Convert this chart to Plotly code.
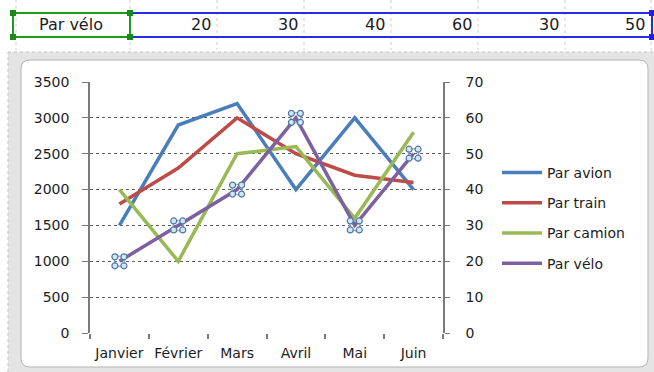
import plotly.graph_objects as go

# ---- data -------------------------------------------------------------
mois = ["Janvier", "Février", "Mars", "Avril", "Mai", "Juin"]
par_avion = [1500, 2900, 3200, 2000, 3000, 2000]
par_train = [1800, 2300, 3000, 2500, 2200, 2100]
par_camion = [2000, 1000, 2500, 2600, 1600, 2800]
par_velo = [20, 30, 40, 60, 30, 50]          # secondary axis

y1_ticks = list(range(0, 3501, 500))
y2_ticks = list(range(0, 71, 10))

# ---- geometry of the figure (pixels) ----------------------------------
W, H = 654, 372
L, R, T, B = 90, 443, 82, 333               # plot area


def px(x):
    return (x - L) / (R - L)


def py(y):
    return (B - y) / (B - T)


FONT = "DejaVu Sans"
TXT = "#1c1c24"
COLORS = {"Par avion": "#4a7ebb", "Par train": "#be4b48",
          "Par camion": "#98b954", "Par vélo": "#7d60a0"}

xs = list(range(len(mois)))
fig = go.Figure()

for name, vals in [("Par avion", par_avion), ("Par train", par_train),
                   ("Par camion", par_camion)]:
    fig.add_trace(go.Scatter(x=xs, y=vals, name=name, mode="lines",
                             legendgroup=name,
                             line=dict(color=COLORS[name], width=3.5)))

fig.add_trace(go.Scatter(x=xs, y=par_velo, name="Par vélo", mode="lines",
                         legendgroup="Par vélo", yaxis="y2",
                         line=dict(color=COLORS["Par vélo"], width=3.5)))

# selection handles around each "Par vélo" point
dx = 4.5 / (R - L) * len(mois)               # ~4.5 px in category units
dy = 4.5 / (B - T) * 70                      # ~4.5 px in secondary units
hx, hy = [], []
for i, v in enumerate(par_velo):
    for sx, sy in [(-1, -1), (1, -1), (1, 1), (-1, 1)]:
        hx.append(i + sx * dx)
        hy.append(v + sy * dy)
fig.add_trace(go.Scatter(x=xs, y=par_velo, mode="markers", yaxis="y2",
                         showlegend=False, hoverinfo="skip",
                         marker=dict(symbol="square-open", size=10,
                                     color="#8fb3d6", line=dict(width=1.5))))
fig.add_trace(go.Scatter(x=hx, y=hy, mode="markers", yaxis="y2",
                         showlegend=False, hoverinfo="skip",
                         marker=dict(symbol="circle", size=6, color="#d3e4f3",
                                     line=dict(color="#4f77a3", width=1.2))))

# ---- decorations: worksheet row and chart frame -----------------------
shapes = []
# chart-area frame (selected border) and white rounded interior
shapes.append(dict(type="rect", xref="paper", yref="paper", layer="below",
                   x0=px(8), x1=px(660), y0=py(52), y1=py(385),
                   fillcolor="#e4e4e4", line=dict(color="#c2c2c2", width=1, dash="dot")))
x0, x1, y0, y1, r = 21, 648, 60, 367, 9
path = (f"M{px(x0 + r)},{py(y0)} L{px(x1 - r)},{py(y0)} "
        f"Q{px(x1)},{py(y0)} {px(x1)},{py(y0 + r)} "
        f"L{px(x1)},{py(y1 - r)} Q{px(x1)},{py(y1)} {px(x1 - r)},{py(y1)} "
        f"L{px(x0 + r)},{py(y1)} Q{px(x0)},{py(y1)} {px(x0)},{py(y1 - r)} "
        f"L{px(x0)},{py(y0 + r)} Q{px(x0)},{py(y0)} {px(x0 + r)},{py(y0)} Z")
shapes.append(dict(type="path", xref="paper", yref="paper", layer="below",
                   path=path, fillcolor="white", line=dict(color="#b5b5b5", width=1)))

# worksheet column boundaries
cols = [16, 130, 217, 304, 391, 478, 565, 651]
for c in cols:
    shapes.append(dict(type="line", xref="paper", yref="paper", layer="below",
                       x0=px(c), x1=px(c), y0=py(0), y1=py(50),
                       line=dict(color="#cfcfcf", width=1, dash="dot")))

# selected cells
shapes.append(dict(type="rect", xref="paper", yref="paper",
                   x0=px(130), x1=px(652), y0=py(13), y1=py(37),
                   line=dict(color="#2a2aee", width=2)))
shapes.append(dict(type="rect", xref="paper", yref="paper",
                   x0=px(13), x1=px(130), y0=py(13), y1=py(37),
                   line=dict(color="#1e9a1e", width=2)))
for hxp, col in [(13, "#1a8a1a"), (130, "#1a8a1a"), (652, "#1f1fe8")]:
    for hyp in (13, 37):
        shapes.append(dict(type="rect", xref="paper", yref="paper",
                           x0=px(hxp - 3), x1=px(hxp + 3), y0=py(hyp + 3), y1=py(hyp - 3),
                           fillcolor=col, line=dict(width=0)))

annotations = [dict(text="Par vélo", x=px(71), y=py(25), xref="paper", yref="paper",
                    showarrow=False, xanchor="center", yanchor="middle",
                    font=dict(family=FONT, size=16, color=TXT))]
for c, v in zip(cols[2:], par_velo):
    annotations.append(dict(text=str(v), x=px(c - 4), y=py(25), xref="paper",
                            yref="paper", showarrow=False, xanchor="right",
                            yanchor="middle",
                            font=dict(family=FONT, size=16, color=TXT)))

axis_font = dict(family=FONT, size=14, color=TXT)

fig.update_layout(
    width=W, height=H,
    margin=dict(l=L, r=W - R, t=T, b=H - B, pad=0),
    paper_bgcolor="white", plot_bgcolor="rgba(0,0,0,0)",
    shapes=shapes, annotations=annotations,
    xaxis=dict(range=[-0.5, len(mois) - 0.5], tickmode="array", tickvals=xs,
               ticktext=mois, ticks="", showgrid=False, zeroline=False,
               showline=False, tickfont=axis_font, ticklabelstandoff=10,
               minor=dict(tickmode="linear", tick0=-0.5, dtick=1, ticks="outside",
                          ticklen=5, tickcolor="#7a7a7a", tickwidth=1.5,
                          showgrid=False)),
    yaxis=dict(range=[0, 3500], tickvals=y1_ticks, showgrid=True,
               gridcolor="#5f5f5f", griddash="dot", gridwidth=1, zeroline=False,
               showline=True, linecolor="#7a7a7a", linewidth=1.5,
               ticks="outside", ticklen=6, tickcolor="#7a7a7a",
               tickfont=axis_font, ticklabelstandoff=10),
    yaxis2=dict(range=[0, 70], tickvals=y2_ticks, overlaying="y", side="right",
                showgrid=False, zeroline=False, showline=True,
                linecolor="#7a7a7a", linewidth=1.5, ticks="outside", ticklen=5,
                tickcolor="#7a7a7a", tickfont=axis_font, ticklabelstandoff=13),
    legend=dict(x=px(497), y=py(218), xanchor="left", yanchor="middle",
                font=dict(family=FONT, size=14, color=TXT), itemwidth=40,
                tracegroupgap=9, bgcolor="rgba(0,0,0,0)", borderwidth=0),
    showlegend=True,
)

fig.write_html("out.html")
